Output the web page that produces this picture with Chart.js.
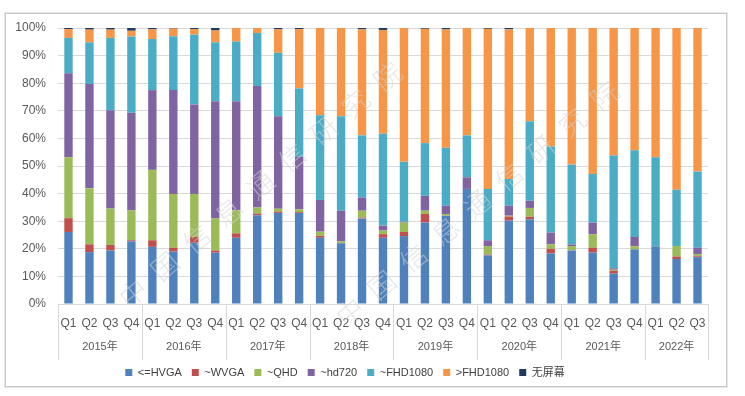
<!DOCTYPE html>
<html><head><meta charset="utf-8">
<script src="https://cdn.jsdelivr.net/npm/chart.js@4/dist/chart.umd.min.js"></script>
<style>html,body{margin:0;padding:0;background:#fff;}#wrap{position:relative;width:745px;height:396px;}</style>
</head><body><div id="wrap"><canvas id="c" width="745" height="396"></canvas></div>
<script>
const quarters = ['Q1','Q2','Q3','Q4','Q1','Q2','Q3','Q4','Q1','Q2','Q3','Q4','Q1','Q2','Q3','Q4','Q1','Q2','Q3','Q4','Q1','Q2','Q3','Q4','Q1','Q2','Q3','Q4','Q1','Q2','Q3'];
const years = ['2015年','2016年','2017年','2018年','2019年','2020年','2021年','2022年'];
const yearSizes = [4,4,4,4,4,4,4,3];
const seriesNames = ['<=HVGA','~WVGA','~QHD','~hd720','~FHD1080','>FHD1080','无屏幕'];
const hvga   = [26.1,18.8,19.4,22.7, 20.7,19.0,22.2,18.6, 24.0,32.2,33.0,33.0, 24.0,22.0,31.0,24.0, 24.6,29.5,32.0,41.7, 17.6,30.2,30.7,18.3, 19.4,18.6,11.0,19.8, 20.8,16.3,17.0];
const wvga   = [5.0,2.8,2.0,0.4, 2.4,1.4,2.1,0.8, 1.6,0.6,0.5,0.3, 0.7,0,0.3,1.3, 1.5,3.1,0,0, 0.3,1.5,0.9,1.7, 0,1.8,1.0,0, 0,0.9,0.3];
const qhd    = [22.1,20.3,13.2,10.9, 25.5,19.5,15.6,11.7, 8.4,2.2,1.0,1.0, 1.5,0.7,2.5,1.3, 3.4,1.2,0.6,0, 3.1,0.3,3.2,1.6, 1.6,4.9,0.4,1.1, 0,3.8,0.8];
const hd720  = [30.4,37.8,35.6,35.3, 28.9,37.6,32.4,42.4, 39.5,44.0,33.5,19.0, 11.5,11.1,4.8,1.8, 0.3,5.4,3.0,4.2, 2.1,3.6,2.6,4.3, 0.6,4.2,0.5,3.4, 0.2,0,2.3];
const fhd    = [12.8,15.1,26.2,27.6, 18.5,19.5,25.3,21.3, 21.6,19.2,23.0,24.8, 30.7,34.2,22.5,33.3, 21.7,19.1,21.0,15.2, 18.6,9.7,28.8,31.2, 28.9,17.6,40.9,31.4, 32.2,20.4,27.6];
const gtFhd  = [3.2,4.6,3.0,2.1, 3.5,2.8,2.0,4.3, 4.9,1.8,8.5,21.5, 31.6,32.0,38.4,37.6, 48.5,41.4,42.9,38.9, 58.0,54.2,33.8,42.9, 49.5,52.9,46.2,44.3, 46.8,58.6,52.0];
const noScreen = [0.4,0.6,0.6,1.0, 0.5,0.2,0.4,0.9, 0,0,0.5,0.4, 0,0,0.5,0.7, 0,0.3,0.5,0, 0.3,0.5,0,0, 0,0,0,0, 0,0,0];
const yTicks = [0,10,20,30,40,50,60,70,80,90,100];
const colors = ['#4F81BD','#C0504D','#9BBB59','#8064A2','#4BACC6','#F79646','#1F3A5F'];
const watermarkText = '中国信息通信研究院';

const FONT = "'Liberation Sans', Arial, 'Noto Sans CJK SC', sans-serif";
const seriesData = [hvga, wvga, qhd, hd720, fhd, gtFhd, noScreen];

const framePlugin = {
  id: 'frame',
  beforeDraw(chart) {
    const ctx = chart.ctx;
    ctx.save();
    ctx.fillStyle = '#ffffff';
    ctx.fillRect(0, 0, chart.width, chart.height);
    ctx.strokeStyle = '#e6e6e6';
    ctx.lineWidth = 1;
    ctx.strokeRect(4.5, 12.5, 723, 375);
    ctx.strokeStyle = '#c9c9c9';
    ctx.strokeRect(5.5, 13.5, 721, 373);
    ctx.restore();
  }
};

const legendShiftPlugin = {
  id: 'legendShift',
  afterLayout(chart) {
    if (chart.legend) { chart.legend.left -= 9; chart.legend.right -= 9; }
  }
};

const yearPlugin = {
  id: 'years',
  afterDraw(chart) {
    const ctx = chart.ctx;
    const xs = chart.scales.x;
    const area = chart.chartArea;
    const half = (xs.getPixelForValue(1) - xs.getPixelForValue(0)) / 2;
    ctx.save();
    ctx.strokeStyle = '#d9d9d9';
    ctx.lineWidth = 1;
    ctx.fillStyle = '#595959';
    ctx.font = "11px " + FONT;
    ctx.textAlign = 'center';
    ctx.textBaseline = 'middle';
    let idx = 0;
    const bounds = [];
    years.forEach((y, g) => {
      const start = idx, end = idx + yearSizes[g] - 1;
      const x0 = xs.getPixelForValue(start) - half;
      const x1 = xs.getPixelForValue(end) + half;
      bounds.push(x0);
      if (g === years.length - 1) bounds.push(x1);
      ctx.fillText(y, (x0 + x1) / 2, 347);
      idx += yearSizes[g];
    });
    bounds.forEach(b => {
      const x = Math.round(b) + 0.5;
      ctx.beginPath();
      ctx.moveTo(x, area.bottom);
      ctx.lineTo(x, 360);
      ctx.stroke();
    });
    ctx.restore();
  }
};

const watermarkPlugin = {
  id: 'watermark',
  afterDatasetsDraw(chart) {
    const ctx = chart.ctx;
    const starts = [[133, 293], [350, 312]];
    const step = [31.8, -27.1];
    ctx.save();
    ctx.font = "300 27px 'Noto Sans CJK SC', sans-serif";
    ctx.textAlign = 'center';
    ctx.textBaseline = 'middle';
    ctx.fillStyle = 'rgba(212,212,212,0.55)';
    starts.forEach(s => {
      [...watermarkText].forEach((ch, i) => {
        ctx.save();
        ctx.translate(s[0] + step[0] * i, s[1] + step[1] * i);
        ctx.rotate(-40 * Math.PI / 180);
        ctx.fillText(ch, 0, 0);
        ctx.restore();
      });
    });
    ctx.restore();
  }
};

new Chart(document.getElementById('c'), {
  type: 'bar',
  data: {
    labels: quarters,
    datasets: seriesNames.map((n, i) => ({
      label: n,
      data: seriesData[i],
      backgroundColor: colors[i],
      borderWidth: 0,
      barPercentage: 0.4,
      categoryPercentage: 1.0
    }))
  },
  options: {
    responsive: false,
    animation: false,
    devicePixelRatio: 1,
    layout: { padding: { top: 28, left: 0, right: 37, bottom: 8 } },
    plugins: {
      tooltip: { enabled: false },
      legend: {
        position: 'bottom',
        labels: {
          boxWidth: 7, boxHeight: 7, padding: 10,
          color: '#404040',
          font: { size: 11, family: FONT }
        }
      }
    },
    scales: {
      x: {
        stacked: true,
        grid: { display: false, drawTicks: false },
        border: { display: true, color: '#d9d9d9' },
        ticks: { color: '#595959', font: { size: 12, family: FONT }, padding: 12, maxRotation: 0, autoSkip: false },
        afterFit(s) { s.height = 53; }
      },
      y: {
        stacked: true,
        min: 0, max: 100,
        afterBuildTicks(s) { s.ticks = yTicks.map(v => ({ value: v })); },
        grid: { color: '#d9d9d9', drawTicks: false },
        border: { display: false },
        ticks: { color: '#595959', font: { size: 12, family: FONT }, padding: 12, callback: v => v + '%' },
        afterFit(s) { s.width = 58; }
      }
    }
  },
  plugins: [framePlugin, legendShiftPlugin, watermarkPlugin, yearPlugin]
});
</script></body></html>
